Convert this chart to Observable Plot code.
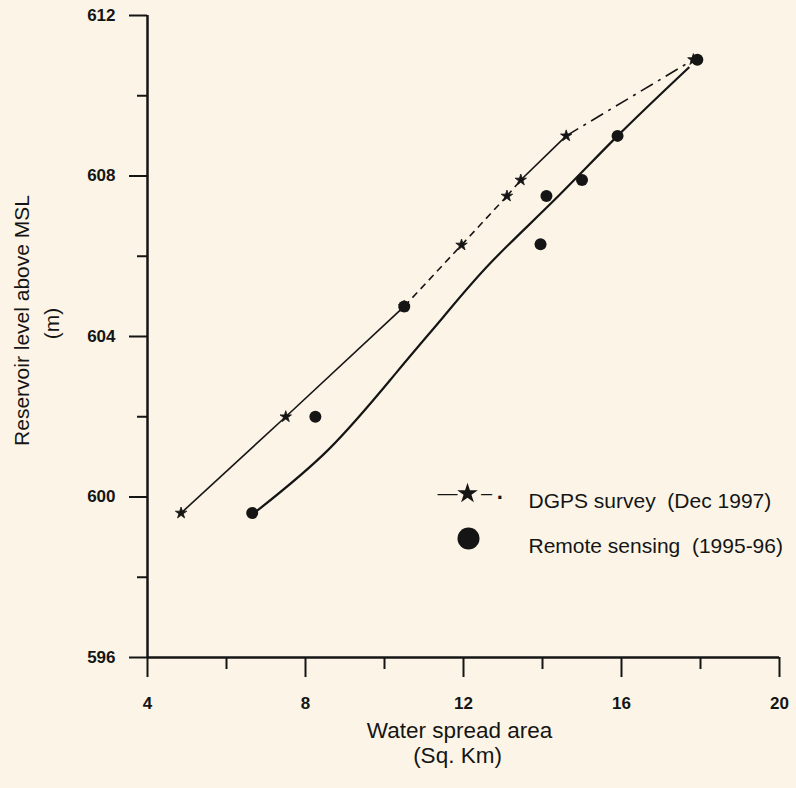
<!DOCTYPE html>
<html><head><meta charset="utf-8">
<script src="https://cdn.jsdelivr.net/npm/d3@7"></script>
<script src="https://cdn.jsdelivr.net/npm/@observablehq/plot@0.6"></script>
<style>body{margin:0;background:#fcf5e7;} #chart svg{display:block}
#chart g[aria-label="x-axis tick label"], #chart g[aria-label="y-axis tick label"]{font-size:17px !important;font-weight:bold;}
</style>
</head><body><div id="chart"></div>
<script>
// Tick values
const xTicks = [4, 8, 12, 16, 20];
const xMinor = [6, 10, 14, 18];
const yTicks = [596, 600, 604, 608, 612];
const yMinor = [598, 602, 606, 610];

// DGPS survey (Dec 1997) points
const dgpsX = [4.85, 7.5, 10.5, 11.95, 13.1, 13.45, 14.6, 17.82];
const dgpsY = [599.6, 602.0, 604.75, 606.28, 607.5, 607.9, 609.0, 610.9];
// line style of each DGPS segment (point i -> i+1)
const dgpsSegStyle = ["solid", "solid", "dash", "dash", "dash", "solid", "dashdot"];

// Remote sensing (1995-96) points
const rsX = [6.65, 8.25, 10.5, 13.95, 14.1, 15.0, 15.9, 17.92];
const rsY = [599.6, 602.0, 604.75, 606.3, 607.5, 607.9, 609.0, 610.9];

// Remote sensing fitted curve
const rsCurveX = [6.7, 8.6, 10.3, 11.5, 12.7, 14.3, 15.9, 17.7];
const rsCurveY = [599.6, 601.2, 603.1, 604.5, 605.85, 607.4, 609.0, 610.7];

const legendLabels = ["DGPS survey\u00a0\u00a0(Dec 1997)", "Remote sensing\u00a0\u00a0(1995-96)"];
const xTitle = ["Water spread area", "(Sq. Km)"];
const yTitle = ["Reservoir level above MSL", "(m)"];

const dgps = dgpsX.map((x, i) => ({x, y: dgpsY[i]}));
const rs = rsX.map((x, i) => ({x, y: rsY[i]}));
const rsCurve = rsCurveX.map((x, i) => ({x, y: rsCurveY[i]}));
const segs = dgps.slice(0, -1).map((p, i) => ({x1: p.x, y1: p.y, x2: dgps[i + 1].x, y2: dgps[i + 1].y, s: dgpsSegStyle[i]}));

const ink = "#151515";
const bg = "#fcf5e7";
const font = "'Liberation Sans', Arial, sans-serif";

const chart = Plot.plot({
  width: 796, height: 788,
  marginLeft: 147, marginRight: 17, marginTop: 15, marginBottom: 131,
  style: {background: bg, fontFamily: font, color: ink, overflow: "visible"},
  x: {domain: [4, 20]},
  y: {domain: [596, 612]},
  marks: [
    Plot.axisX({ticks: xTicks, tickSize: 20, tickPadding: 19, fontSize: 17, fontWeight: "bold", stroke: ink, strokeWidth: 2, label: null}),
    Plot.axisX({ticks: xMinor, tickSize: 12, text: null, stroke: ink, strokeWidth: 2, label: null}),
    Plot.axisY({ticks: yTicks, tickSize: 18, tickPadding: 14, fontSize: 17, fontWeight: "bold", stroke: ink, strokeWidth: 2, label: null}),
    Plot.axisY({ticks: yMinor, tickSize: 10, text: null, stroke: ink, strokeWidth: 2, label: null}),
    Plot.ruleX([4], {stroke: ink, strokeWidth: 2.5}),
    Plot.ruleY([596], {stroke: ink, strokeWidth: 2.5}),

    // DGPS line segments
    Plot.link(segs.filter(d => d.s === "solid"), {x1: "x1", y1: "y1", x2: "x2", y2: "y2", stroke: ink, strokeWidth: 1.6}),
    Plot.link(segs.filter(d => d.s === "dash"), {x1: "x1", y1: "y1", x2: "x2", y2: "y2", stroke: ink, strokeWidth: 1.6, strokeDasharray: "7,5"}),
    Plot.link(segs.filter(d => d.s === "dashdot"), {x1: "x1", y1: "y1", x2: "x2", y2: "y2", stroke: ink, strokeWidth: 1.6, strokeDasharray: "14,6,3,6"}),
    // Remote sensing curve
    Plot.line(rsCurve, {x: "x", y: "y", curve: "natural", stroke: ink, strokeWidth: 2.2}),

    Plot.dot(dgps, {x: "x", y: "y", symbol: "star", r: 3.6, fill: ink, stroke: ink, strokeWidth: 0.8}),
    Plot.dot(rs, {x: "x", y: "y", r: 6, fill: ink}),

    // axis titles
    Plot.text([yTitle[0]], {frameAnchor: "left", textAnchor: "middle", dx: -125, dy: -16, rotate: -90, fontSize: 21, fill: ink}),
    Plot.text([yTitle[1]], {frameAnchor: "left", textAnchor: "middle", dx: -95, dy: -13, rotate: -90, fontSize: 21, fill: ink}),
    Plot.text([xTitle[0]], {frameAnchor: "bottom", dx: -4, dy: 80, fontSize: 22.5, fill: ink}),
    Plot.text([xTitle[1]], {frameAnchor: "bottom", dx: -6, dy: 105, fontSize: 22.5, fill: ink}),

    // legend
    Plot.text(["\u2014"], {frameAnchor: "top-left", textAnchor: "middle", dx: 300, dy: 470, fontSize: 20, fill: ink}),
    Plot.dot([0], {frameAnchor: "top-left", dx: 320, dy: 478, symbol: "star", r: 6.5, fill: ink}),
    Plot.text(["\u2013"], {frameAnchor: "top-left", textAnchor: "middle", dx: 339, dy: 470, fontSize: 20, fill: ink}),
    Plot.text(["\u00b7"], {frameAnchor: "top-left", textAnchor: "middle", dx: 353, dy: 474, fontSize: 22, fontWeight: "bold", fill: ink}),
    Plot.text([legendLabels[0]], {frameAnchor: "top-left", textAnchor: "start", dx: 381, dy: 478, fontSize: 21, fill: ink}),
    Plot.dot([0], {frameAnchor: "top-left", dx: 321, dy: 523, r: 11, fill: ink}),
    Plot.text([legendLabels[1]], {frameAnchor: "top-left", textAnchor: "start", dx: 381, dy: 523, fontSize: 21, fill: ink})
  ]
});
chart.querySelectorAll('g[aria-label="x-axis tick label"], g[aria-label="y-axis tick label"]').forEach(g => {
  g.setAttribute("font-size", "17");
  g.querySelectorAll("text").forEach(t => t.setAttribute("font-size", "17"));
});
document.getElementById("chart").append(chart);
</script>
</body></html>
